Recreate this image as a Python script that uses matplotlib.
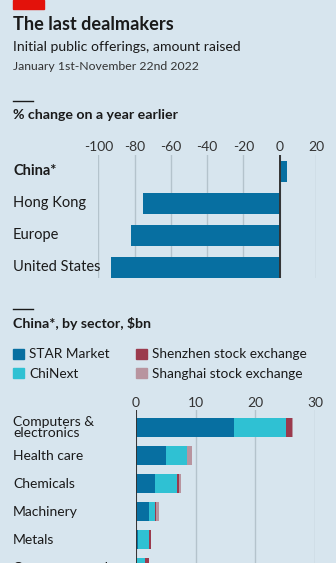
import matplotlib
matplotlib.use("Agg")
import matplotlib.pyplot as plt
from matplotlib.lines import Line2D
from matplotlib.patches import Rectangle, Patch
from matplotlib.transforms import blended_transform_factory

plt.rcParams['font.family'] = ['Lato', 'DejaVu Sans']

# data: % change on a year earlier
markets = ["China*", "Hong Kong", "Europe", "United States"]
pct_change = [4.2, -75.2, -81.8, -92.8]
pct_ticks = [-100, -80, -60, -40, -20, 0, 20]

# data: China by sector, $bn
sectors = ["Computers &\nelectronics", "Health care", "Chemicals",
           "Machinery", "Metals", "Consumer products"]
star = [16.5, 5.0, 3.3, 2.2, 0.35, 0.0]
chinext = [8.55, 3.65, 3.6, 1.0, 1.85, 1.6]
shenzhen = [1.1, 0.0, 0.25, 0.2, 0.4, 0.6]
shanghai = [0.1, 0.7, 0.35, 0.5, 0.0, 0.0]
series_names = ["STAR Market", "ChiNext", "Shenzhen stock exchange", "Shanghai stock exchange"]
sector_ticks = [0, 10, 20, 30]

BG = "#d7e5ee"
DARK = "#076fa1"
CYAN = "#2fc1d3"
WINE = "#9b3a4d"
PINK = "#b8949f"
GRID = "#b4c3cc"
TXT = "#1a1a1a"

W, H = 336, 563
fig = plt.figure(figsize=(W / 100, H / 100), dpi=100, facecolor=BG)

def fx(px):
    return px / W

def fy(py):
    return 1 - py / H

# header
fig.patches.append(Rectangle((fx(13), fy(9)), fx(31), 9 / H, transform=fig.transFigure,
                             color="#e3120b", zorder=5))
fig.text(fx(13), fy(25), "The last dealmakers", fontsize=13.1, fontweight="bold",
         color=TXT, va="center")
fig.text(fx(13), fy(47), "Initial public offerings, amount raised", fontsize=10.1,
         color=TXT, va="center")
fig.text(fx(13), fy(66), "January 1st-November 22nd 2022", fontsize=8.8,
         color="#333333", va="center")

for ly in (101, 309):
    fig.add_artist(Line2D([fx(13), fx(33)], [fy(ly), fy(ly)], color=TXT, lw=1,
                          transform=fig.transFigure))
fig.text(fx(13), fy(115), "% change on a year earlier", fontsize=10.2,
         fontweight="bold", color=TXT, va="center")
fig.text(fx(13), fy(323), "China*, by sector, $bn", fontsize=10.2,
         fontweight="bold", color=TXT, va="center")

# top chart
ax1 = fig.add_axes([fx(98.3), fy(278), fx(316 - 98.3), (278 - 155) / H])
ax1.set_facecolor("none")
ax1.barh(range(len(markets)), pct_change, height=0.65, color=DARK, zorder=3)
ax1.set_xlim(-100, 20)
ax1.set_ylim(3.33, -0.51)
ax1.set_xticks(pct_ticks)
ax1.set_xticklabels([str(t) for t in pct_ticks], fontsize=10, color="#333333")
ax1.xaxis.tick_top()
ax1.tick_params(axis="x", length=0, pad=1.5)
ax1.set_yticks([])
ax1.grid(axis="x", color=GRID, lw=1, zorder=0)
ax1.axvline(0, color="#333333", lw=1.4, zorder=4)
for s in ax1.spines.values():
    s.set_visible(False)
tr1 = blended_transform_factory(fig.transFigure, ax1.transData)
for i, name in enumerate(markets):
    ax1.text(fx(13), i, name, transform=tr1, va="center", fontsize=10.5, color=TXT,
             fontweight="bold" if i == 0 else "normal")

# legend
handles = [Patch(color=c) for c in (DARK, CYAN, WINE, PINK)]
leg = fig.legend(handles, series_names, ncol=2, loc="upper left",
                 bbox_to_anchor=(fx(8), fy(343)), frameon=False, fontsize=9.8,
                 handlelength=0.8, handleheight=0.8, handletextpad=0.35,
                 columnspacing=1.95, labelspacing=0.55, borderaxespad=0,
                 labelcolor=TXT)

# bottom chart
top_px, bot_px = 410, 620
ax2 = fig.add_axes([fx(135.7), fy(bot_px), fx(315.3 - 135.7), (bot_px - top_px) / H])
ax2.set_facecolor("none")
ypos = range(len(sectors))
left = [0] * len(sectors)
for vals, col in zip((star, chinext, shenzhen, shanghai), (DARK, CYAN, WINE, PINK)):
    ax2.barh(ypos, vals, left=left, height=0.7, color=col, zorder=3)
    left = [a + b for a, b in zip(left, vals)]
ax2.set_xlim(0, 30)
ax2.set_ylim((bot_px - 427.5) / 28, -(427.5 - top_px) / 28)
ax2.set_xticks(sector_ticks)
ax2.set_xticklabels([str(t) for t in sector_ticks], fontsize=10, color="#333333")
ax2.xaxis.tick_top()
ax2.tick_params(axis="x", length=0, pad=0.5)
ax2.set_yticks([])
ax2.grid(axis="x", color=GRID, lw=1, zorder=0)
ax2.axvline(0, color="#333333", lw=1.4, zorder=4)
for s in ax2.spines.values():
    s.set_visible(False)
tr2 = blended_transform_factory(fig.transFigure, ax2.transData)
for i, name in enumerate(sectors):
    ax2.text(fx(13), i, name, transform=tr2, va="center", fontsize=10, color=TXT,
             linespacing=0.95)

fig.savefig("out.png", dpi=100, facecolor=BG)
